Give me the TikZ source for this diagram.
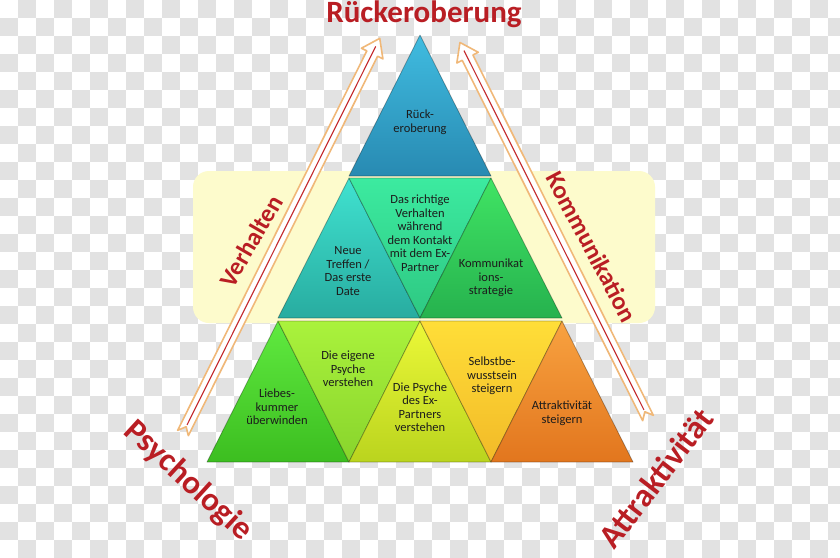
\documentclass[tikz,border=0pt]{standalone}
\usepackage{fontspec}
\setmainfont{Carlito}
\usepackage{tikz}
\usetikzlibrary{positioning, calc}
\definecolor{mycheck}{RGB}{226,226,226}
\definecolor{myband}{RGB}{253,251,204}
\definecolor{myred}{RGB}{185,30,36}
\definecolor{myedge}{RGB}{240,184,120}
\definecolor{mystripe}{RGB}{196,40,44}
\definecolor{mytext}{RGB}{28,28,28}
\definecolor{bluetop}{RGB}{64,188,224}
\definecolor{bluebot}{RGB}{40,138,178}
\definecolor{cyantop}{RGB}{64,226,208}
\definecolor{cyanbot}{RGB}{40,172,160}
\definecolor{minttop}{RGB}{60,234,160}
\definecolor{mintbot}{RGB}{46,200,130}
\definecolor{greentop}{RGB}{64,228,100}
\definecolor{greenbot}{RGB}{38,178,78}
\definecolor{leaftop}{RGB}{96,234,64}
\definecolor{leafbot}{RGB}{60,190,32}
\definecolor{limetop}{RGB}{170,242,60}
\definecolor{limebot}{RGB}{136,212,44}
\definecolor{yelltop}{RGB}{236,248,56}
\definecolor{yellbot}{RGB}{186,212,30}
\definecolor{goldtop}{RGB}{255,222,56}
\definecolor{goldbot}{RGB}{242,186,40}
\definecolor{orantop}{RGB}{248,162,64}
\definecolor{oranbot}{RGB}{226,118,30}
\tikzset{
  tri/.style={draw=black, draw opacity=0.3, line width=0.8pt, line join=round},
  txt/.style={font=\fontsize{12.5}{13.5}\selectfont, text=mytext,
    align=center, inner sep=0pt},
  bigtitle/.style={font=\fontsize{31}{31}\selectfont\bfseries, text=myred},
  cornerlbl/.style={font=\fontsize{33}{33}\selectfont\bfseries, text=myred},
  sidelbl/.style={font=\fontsize{25}{25}\selectfont\bfseries, text=myred},
  arrowbody/.style={fill=white, draw=myedge, line width=1.6pt, line join=round},
  stripe/.style={mystripe, line width=1.1pt},
  checker/.style={fill=mycheck, draw=none}
}

\begin{document}
\begin{tikzpicture}[x=1pt, y=-1pt]
  \useasboundingbox (0,0) rectangle (840,557);
  % checker background
  \begin{scope}
    \clip (0,0) rectangle (840,557);
    \fill[white] (0,0) rectangle (840,557);
    \foreach \row in {0,2,...,30}
      \foreach \col in {1,3,...,45}
        \path[checker] (\col*18,\row*18) rectangle ++(18,18);
    \foreach \row in {1,3,...,29}
      \foreach \col in {0,2,...,46}
        \path[checker] (\col*18,\row*18) rectangle ++(18,18);
  \end{scope}

  % highlight band
  \fill[myband, rounded corners=16pt] (193,171) rectangle (655,323);

  % side arrows
  \coordinate (lfoot) at (183,433);
  \coordinate (rfoot) at (648,418);
  \begin{scope}[shift={(lfoot)}, rotate=63.5]
    \draw[arrowbody] (0,-6) -- (424,-6) -- (424,-12) -- (441,0) -- (424,12)
      -- (424,6) -- (0,6) -- (7,0) -- cycle;
    \draw[stripe] (9,0) -- (432,0);
  \end{scope}
  \begin{scope}[shift={(rfoot)}, rotate=116.6]
    \draw[arrowbody] (0,-6) -- (403,-6) -- (403,-12) -- (420,0) -- (403,12)
      -- (403,6) -- (0,6) -- (7,0) -- cycle;
    \draw[stripe] (9,0) -- (411,0);
  \end{scope}

  % pyramid
  \draw[tri, top color=bluetop, bottom color=bluebot] (420,35) -- (491,176) -- (349,176) -- cycle;
  \draw[tri, top color=cyantop, bottom color=cyanbot] (349,178) -- (420,318) -- (278,318) -- cycle;
  \draw[tri, top color=minttop, bottom color=mintbot] (349,178) -- (491,178) -- (420,318) -- cycle;
  \draw[tri, top color=greentop, bottom color=greenbot] (491,178) -- (562,318) -- (420,318) -- cycle;
  \draw[tri, top color=leaftop, bottom color=leafbot] (278,321) -- (349,462) -- (207,462) -- cycle;
  \draw[tri, top color=limetop, bottom color=limebot] (278,321) -- (420,321) -- (349,462) -- cycle;
  \draw[tri, top color=yelltop, bottom color=yellbot] (420,321) -- (491,462) -- (349,462) -- cycle;
  \draw[tri, top color=goldtop, bottom color=goldbot] (420,321) -- (562,321) -- (491,462) -- cycle;
  \draw[tri, top color=orantop, bottom color=oranbot] (562,321) -- (633,462) -- (491,462) -- cycle;

  \node[txt] (apex)      at (420,122) {Rück-\\eroberung};
  \node[txt] (treffen)   at (348,271) {Neue\\Treffen /\\Das erste\\Date};
  \node[txt] (kontakt)   at (420,233) {Das richtige\\Verhalten\\während\\dem Kontakt\\mit dem Ex-\\Partner};
  \node[txt] (strategie) at (491,278) {Kommunikat\\ions-\\strategie};
  \node[txt] (liebe)     at (277,407) {Liebes-\\kummer\\überwinden};
  \node[txt] (eigene)    at (348,369) {Die eigene\\Psyche\\verstehen};
  \node[txt] (expartner) at (420,407) {Die Psyche\\des Ex-\\Partners\\verstehen};
  \node[txt] (selbst)    at (492,376) {Selbstbe-\\wusstsein\\steigern};
  \node[txt] (attrakt)   at (562,413) {Attraktivität\\steigern};

  % outer labels
  \node[bigtitle] (title) at (424,14) {Rückeroberung};
  \node[sidelbl, rotate=60]      (verh)  at (251,241) {Verhalten};
  \node[sidelbl, rotate=-62]     (komm)  at (592,247) {Kommunikation};
  \node[cornerlbl, rotate=-42.5] (psych) at (188,481) {Psychologie};
  \node[cornerlbl, rotate=52.5]  (attr)  at (656,478) {Attraktivität};
\end{tikzpicture}
\end{document}
